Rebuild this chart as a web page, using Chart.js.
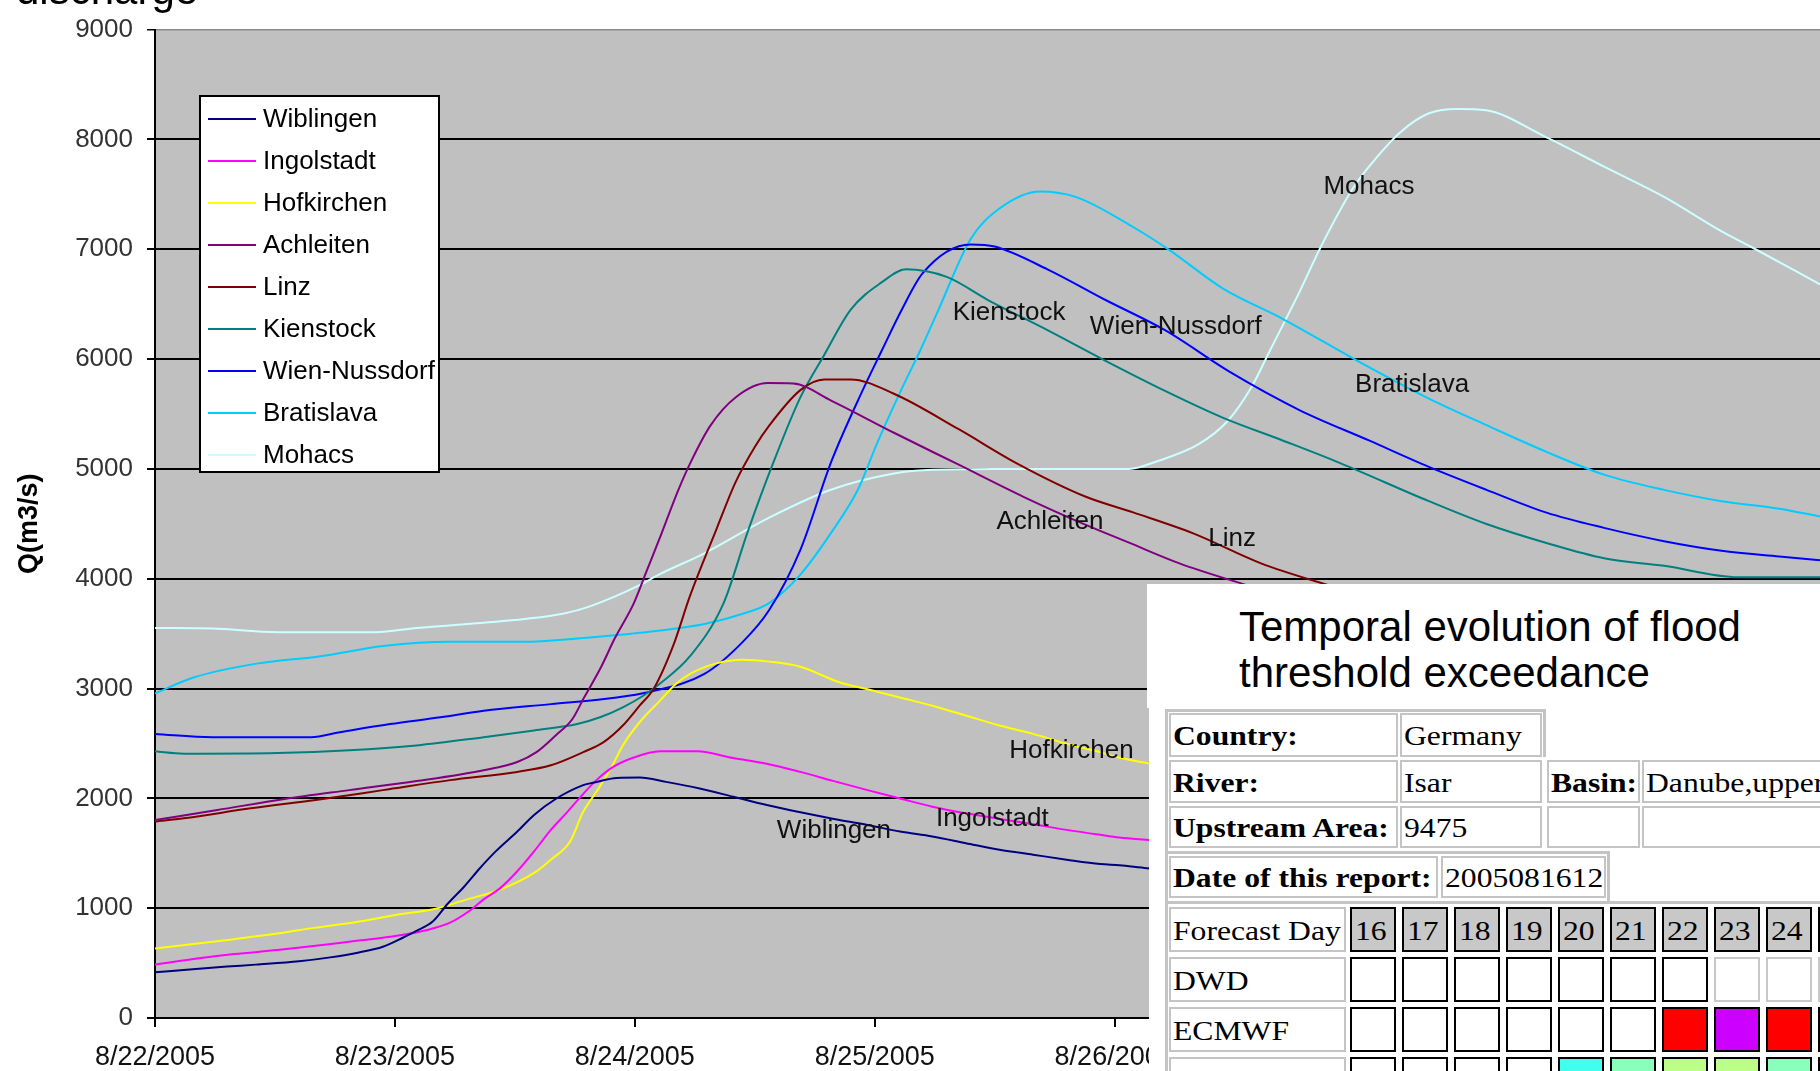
<!DOCTYPE html>
<html><head><meta charset="utf-8">
<script src="https://cdn.jsdelivr.net/npm/chart.js@4.4.1/dist/chart.umd.min.js"></script>
<style>
html,body{margin:0;padding:0;background:#fff;width:1820px;height:1071px;overflow:hidden;position:relative;font-family:Arial,"Liberation Sans",sans-serif}
#c{position:absolute;left:0;top:0}
.abs{position:absolute;box-sizing:border-box}
.cell{display:flex;align-items:center;padding-left:2px;padding-top:2px;font-family:"Liberation Serif","Times New Roman",serif;font-size:28px;color:#000;background:#fff;border:2px solid #c4c4c4;white-space:nowrap;overflow:hidden}
.cell span{display:inline-block;transform:scaleX(1.13);transform-origin:left center}
.day{border:2px solid #000;padding-left:3px}
.ttl{font-family:Arial,"Liberation Sans",sans-serif;font-size:42px;line-height:42px;color:#000;white-space:nowrap}
</style></head><body>
<canvas id="c" width="1820" height="1071"></canvas>
<div class="abs" style="left:16px;top:-31px;font-size:42px;line-height:42px;color:#000;white-space:nowrap">discharge</div>
<script>
// ---- data ----
const tickLabels = ['8/22/2005','8/23/2005','8/24/2005','8/25/2005','8/26/2005','8/27/2005','8/28/2005'];
const stations = ['Wiblingen','Ingolstadt','Hofkirchen','Achleiten','Linz','Kienstock','Wien-Nussdorf','Bratislava','Mohacs'];
// [day since 8/22/2005 00:00, Q m3/s]
const wiblingen = [[0,416],[0.17,447],[0.30,468],[0.42,486],[0.60,516],[0.73,552],[0.85,597],[0.95,649],[1.035,733],[1.09,793],[1.16,884],[1.22,1040],[1.29,1200],[1.355,1366],[1.42,1517],[1.51,1698],[1.58,1849],[1.67,1994],[1.785,2120],[1.83,2144],[1.925,2186],[2.02,2189],[2.13,2150],[2.27,2090],[2.41,2015],[2.55,1939],[2.69,1873],[2.83,1813],[2.97,1758],[3.105,1698],[3.24,1653],[3.38,1592],[3.52,1532],[3.66,1487],[3.80,1442],[3.94,1402],[4.02,1390],[4.135,1364],[4.25,1345]];
const ingolstadt = [[0,486],[0.16,537],[0.33,582],[0.51,619],[0.67,658],[0.84,703],[0.98,739],[1.13,799],[1.23,868],[1.31,974],[1.37,1080],[1.44,1185],[1.51,1336],[1.58,1517],[1.65,1713],[1.72,1879],[1.77,2005],[1.84,2166],[1.91,2286],[1.99,2367],[2.105,2428],[2.26,2428],[2.41,2367],[2.55,2316],[2.69,2241],[2.83,2157],[2.97,2075],[3.105,1999],[3.24,1924],[3.38,1864],[3.52,1813],[3.66,1764],[3.80,1713],[3.94,1668],[4.02,1644],[4.15,1617],[4.25,1595]];
const hofkirchen = [[0,633],[0.16,673],[0.33,718],[0.51,769],[0.67,823],[0.84,875],[1.02,944],[1.16,990],[1.30,1080],[1.44,1170],[1.58,1321],[1.65,1442],[1.73,1607],[1.785,1879],[1.84,2060],[1.90,2271],[1.95,2482],[2.02,2693],[2.105,2890],[2.17,3039],[2.23,3133],[2.34,3229],[2.45,3262],[2.56,3245],[2.69,3199],[2.855,3055],[2.97,2994],[3.105,2919],[3.24,2844],[3.38,2754],[3.52,2663],[3.66,2587],[3.80,2497],[3.94,2421],[4.01,2376],[4.11,2331],[4.25,2290]];
const achleiten = [[0,1803],[0.26,1894],[0.54,1994],[0.81,2075],[1.09,2157],[1.37,2256],[1.51,2331],[1.59,2421],[1.67,2573],[1.74,2723],[1.785,2904],[1.86,3199],[1.916,3455],[1.996,3778],[2.049,4069],[2.102,4360],[2.182,4812],[2.235,5071],[2.315,5394],[2.421,5652],[2.554,5781],[2.66,5777],[2.82,5620],[3.08,5329],[3.35,5038],[3.62,4746],[3.88,4490],[4.06,4328],[4.27,4140],[4.59,3914]];
const linz = [[0,1788],[0.12,1818],[0.40,1909],[0.67,1985],[0.95,2075],[1.23,2166],[1.51,2241],[1.65,2301],[1.785,2421],[1.87,2512],[1.95,2663],[2.02,2844],[2.08,3003],[2.16,3390],[2.23,3843],[2.34,4450],[2.42,4880],[2.50,5200],[2.56,5394],[2.69,5717],[2.79,5814],[2.90,5814],[3.08,5684],[3.35,5361],[3.59,5053],[3.88,4746],[4.08,4602],[4.33,4411],[4.61,4140],[4.93,3914]];
const kienstock = [[0,2428],[0.12,2406],[0.51,2412],[0.81,2437],[1.09,2482],[1.37,2557],[1.58,2618],[1.76,2677],[1.855,2738],[1.95,2829],[2.035,2934],[2.10,3037],[2.23,3294],[2.37,3778],[2.47,4424],[2.58,5072],[2.69,5651],[2.79,6040],[2.90,6450],[3.03,6700],[3.13,6817],[3.30,6748],[3.47,6540],[3.72,6263],[3.96,5986],[4.21,5710],[4.45,5467],[4.70,5259],[4.94,5053],[5.31,4706],[5.55,4498],[5.80,4325],[6.04,4186],[6.29,4117],[6.60,4013],[6.94,4013]];
const wienNussdorf = [[0,2587],[0.24,2557],[0.65,2557],[0.77,2602],[0.98,2677],[1.19,2738],[1.37,2798],[1.65,2858],[1.925,2919],[2.05,2964],[2.29,3133],[2.45,3425],[2.56,3715],[2.69,4263],[2.82,5072],[2.95,5717],[3.03,6080],[3.11,6438],[3.20,6783],[3.40,7044],[3.50,7025],[3.72,6817],[3.96,6540],[4.21,6263],[4.48,5883],[4.77,5536],[5.06,5259],[5.31,5018],[5.55,4809],[5.80,4602],[6.04,4463],[6.29,4342],[6.53,4255],[6.77,4203],[6.94,4169]];
const bratislava = [[0,2955],[0.16,3100],[0.43,3229],[0.69,3294],[0.96,3390],[1.23,3425],[1.54,3425],[1.76,3455],[2.02,3507],[2.29,3588],[2.45,3681],[2.56,3778],[2.69,4037],[2.82,4424],[2.93,4812],[3.01,5235],[3.11,5717],[3.19,6080],[3.26,6420],[3.40,7094],[3.52,7371],[3.69,7526],[3.84,7475],[4.08,7198],[4.23,6990],[4.45,6644],[4.70,6367],[5.01,5986],[5.31,5640],[5.55,5398],[5.80,5155],[6.04,4948],[6.29,4809],[6.53,4706],[6.77,4637],[6.94,4567]];
const mohacs = [[0,3552],[0.24,3546],[0.51,3513],[0.92,3513],[1.09,3552],[1.38,3601],[1.54,3633],[1.70,3681],[1.81,3746],[2.02,3941],[2.10,4037],[2.29,4231],[2.56,4556],[2.82,4812],[3.08,4958],[3.22,4990],[3.50,5000],[3.80,5000],[4.06,5000],[4.18,5072],[4.35,5225],[4.47,5434],[4.57,5744],[4.65,6090],[4.77,6609],[4.86,7025],[4.99,7544],[5.06,7752],[5.19,8064],[5.31,8238],[5.43,8278],[5.55,8265],[5.79,8030],[6.04,7752],[6.29,7477],[6.53,7163],[6.65,7025],[6.94,6681]];
const series = [wiblingen, ingolstadt, hofkirchen, achleiten, linz, kienstock, wienNussdorf, bratislava, mohacs];

// report table contents
const reportInfo = [['Country:','Germany'],['River:','Isar','Basin:','Danube,upper'],['Upstream Area:','9475','',''],['Date of this report:','2005081612']];
const forecastDays = ['16','17','18','19','20','21','22','23','24','25'];
const forecastRows = ['DWD','ECMWF','EPS>HAL'];
const ecmwfFlags = ['','','','','','','red','purple','red',''];
const epsCounts = ['','','','','1','8','11','11','8',''];

// ---- styles ----
const lineColors = ['#000080','#ff00ff','#ffff00','#800080','#800000','#008080','#0000ff','#00ccff','#ccffff'];
const FONT = 'Arial, "Liberation Sans", sans-serif';
// label anchor points (in data units) for the in-plot station names
const labelAnchors = [[2.83,1707],[3.49,1815],[3.82,2430],[3.73,4520],[4.49,4366],[3.56,6420],[4.255,6289],[5.24,5768],[5.06,7569]];

const plotBg = {id:'plotBg', beforeDraw(chart){const {ctx, chartArea:a}=chart; ctx.save(); ctx.fillStyle='#c0c0c0'; ctx.fillRect(a.left,a.top,a.right-a.left,a.bottom-a.top); ctx.restore();}};
const lineLabels = {id:'lineLabels', afterDatasetsDraw(chart){const {ctx, scales:{x,y}}=chart; ctx.save(); ctx.font='26px '+FONT; ctx.fillStyle='#111'; ctx.textAlign='center'; ctx.textBaseline='middle';
  stations.forEach((n,i)=>{const [d,q]=labelAnchors[i]; ctx.fillText(n, x.getPixelForValue(d), y.getPixelForValue(q));}); ctx.restore();}};

new Chart(document.getElementById('c'), {
  type:'line',
  data:{datasets: stations.map((name,i)=>({label:name, data: series[i].map(([d,q])=>({x:d,y:q})), borderColor: lineColors[i], backgroundColor: lineColors[i], borderWidth:2, pointRadius:0, fill:false, cubicInterpolationMode:'monotone'}))},
  options:{
    responsive:false, animation:false, devicePixelRatio:1,
    layout:{padding:{top:23,right:0,bottom:0,left:0}},
    plugins:{legend:{display:false}, tooltip:{enabled:false}},
    scales:{
      x:{type:'linear', min:0, max:6.94,
         afterBuildTicks(s){s.ticks = tickLabels.map((_,i)=>({value:i}));},
         afterFit(s){s.height = 53;},
         ticks:{autoSkip:false, maxRotation:0, font:{size:27,family:FONT}, color:'#111', padding:14, callback:(v)=>tickLabels[v] ?? ''},
         grid:{drawOnChartArea:false, drawTicks:true, tickLength:9, color:'#000', lineWidth:2},
         border:{color:'#000', width:2}},
      y:{min:0, max:9000,
         afterFit(s){s.width = 155;},
         ticks:{stepSize:1000, font:{size:26,family:FONT}, color:'#333', padding:14, callback:(v)=>String(v)},
         grid:{color:(c)=> (c.tick && c.tick.value===9000) ? '#8a8a8a' : '#000', lineWidth:(c)=> (c.tick && c.tick.value===9000) ? 1.5 : 2, tickLength:8, tickColor:'#000'},
         border:{color:'#000', width:2},
         title:{display:true, text:'Q(m3/s)', font:{size:27, weight:'bold', family:FONT}, color:'#000', padding:{top:13,bottom:0}}}
    }
  },
  plugins:[plotBg, lineLabels]
});

// ---- legend (HTML) ----
function box(l,t,w,h,css){const d=document.createElement('div'); d.className='abs'; Object.assign(d.style,{left:l+'px',top:t+'px',width:w+'px',height:h+'px'},css||{}); document.body.appendChild(d); return d;}
box(199,95,241,378,{background:'#fff',border:'2px solid #000'});
stations.forEach((n,i)=>{
  box(208,118+42*i,48,2,{background:lineColors[i]});
  const t = box(263,97+42*i,180,42,{fontSize:'26px',lineHeight:'42px',color:'#000',whiteSpace:'nowrap'});
  t.textContent = n;
});

// ---- report overlay ----
box(1147,584,673,124,{background:'#fff'});
box(1149,708,671,363,{background:'#fff'});
const t1 = box(1239,606,600,42); t1.className='abs ttl'; t1.textContent='Temporal evolution of flood';
const t2 = box(1239,652,600,42); t2.className='abs ttl'; t2.textContent='threshold exceedance';
// frames
const frameCss = {background:'#c4c4c4'};
box(1165,709,3,362,frameCss);
box(1165,709,381,3,frameCss);
box(1543,709,3,48,frameCss);
box(1165,851,445,3,frameCss);
box(1607,851,3,50,frameCss);
box(1165,901,655,3,frameCss);

function cell(l,t,w,h,text,bold,extra,cls){
  const d = box(l,t,w,h,extra); d.className = 'abs cell' + (cls ? ' '+cls : '');
  if (text){ const s=document.createElement('span'); s.textContent=text; if(bold) s.style.fontWeight='bold'; d.appendChild(s); }
  return d;
}
const infoCols = [[1169,229],[1400,142],[1547,93],[1642,200]];
const infoRows = [[713,44],[760,43],[806,42]];
infoRows.forEach(([top,h],r)=>{
  reportInfo[r].forEach((txt,c)=>{ cell(infoCols[c][0],top,infoCols[c][1],h,txt, c%2===0); });
});
cell(1169,856,269,42,reportInfo[3][0],true);
cell(1441,856,165,42,reportInfo[3][1],false);

const rowTops = [907,957,1007,1057];
cell(1169,rowTops[0],177,45,'Forecast Day',false);
forecastDays.forEach((d,i)=>{ cell(1350+52*i,rowTops[0],46,45,d,false,{background:'#c8c8c8'},'day'); });
forecastRows.forEach((name,r)=>{
  const top = rowTops[r+1];
  cell(1169,top,177,45,name,false);
  forecastDays.forEach((d,i)=>{
    let bg = '#fff', cls = 'day', txt = '', extra = {};
    if (r===0 && i>=7){ cls=''; }
    if (r===1){ if (ecmwfFlags[i]==='red') bg='#ff0000'; if (ecmwfFlags[i]==='purple') bg='#cc00ff'; }
    if (r===2){ txt = epsCounts[i]; const c={'1':'#40ffee','8':'#88ffbb','11':'#bbff88'}; if (c[txt]) bg=c[txt]; }
    extra.background = bg;
    const el = cell(1350+52*i,top,46,45,txt,false,extra,cls);
    if (cls==='') el.style.border='2px solid #c8c8c8';
  });
});
</script>
</body></html>
